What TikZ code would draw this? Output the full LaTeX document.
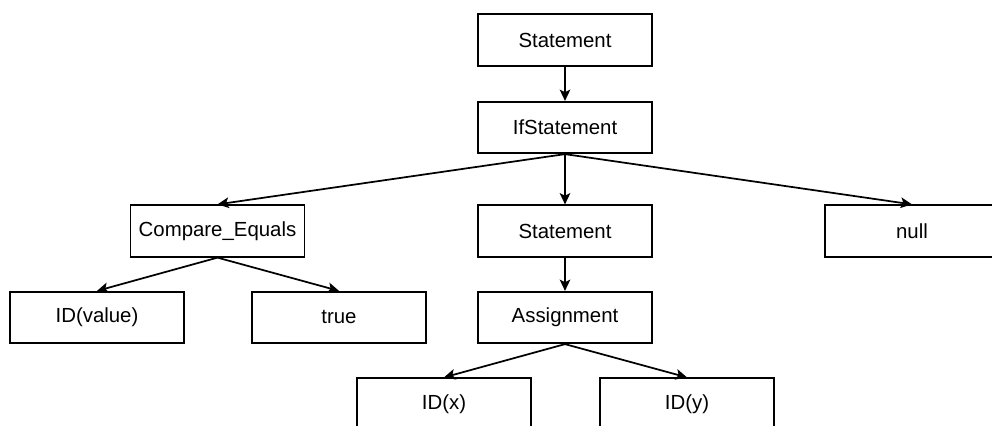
\documentclass[tikz,border=0pt]{standalone}
\usepackage{fontspec}
\setmainfont{Liberation Sans}
\usetikzlibrary{arrows.meta}
\begin{document}
\begin{tikzpicture}[x=0.75pt, y=-0.75pt,
  treebox/.style={draw=black, line width=1.3pt, fill=white,
    minimum width=174*0.75pt, minimum height=51.5*0.75pt,
    inner sep=0pt, font=\fontsize{15.3}{18}\selectfont},
  link/.style={line width=1.3pt,
    -{Stealth[length=8.5pt, width=8pt, inset=2pt]}}]
  \useasboundingbox (0,0) rectangle (992,425);
  % tree nodes
  \node[treebox] (s0)   at (565,40)    {Statement};
  \node[treebox] (ifs)  at (565,127.5) {IfStatement};
  \node[treebox] (ce)   at (217.5,231) {Compare\_Equals};
  \node[treebox] (s1)   at (565,231)   {Statement};
  \node[treebox] (nul)  at (912,231)   {null};
  \node[treebox] (idv)  at (97,317.5)  {ID(value)};
  \node[treebox] (tru)  at (339,317.5) {true};
  \node[treebox] (asg)  at (565,317.5) {Assignment};
  \node[treebox] (idx)  at (444,404)   {ID(x)};
  \node[treebox] (idy)  at (687,404)   {ID(y)};
  % edges
  \draw[link] (s0.south)  -- (ifs.north);
  \draw[link] (ifs.south) -- (ce.north);
  \draw[link] (ifs.south) -- (s1.north);
  \draw[link] (ifs.south) -- (nul.north);
  \draw[link] (ce.south)  -- (idv.north);
  \draw[link] (ce.south)  -- (tru.north);
  \draw[link] (s1.south)  -- (asg.north);
  \draw[link] (asg.south) -- (idx.north);
  \draw[link] (asg.south) -- (idy.north);
\end{tikzpicture}
\end{document}
